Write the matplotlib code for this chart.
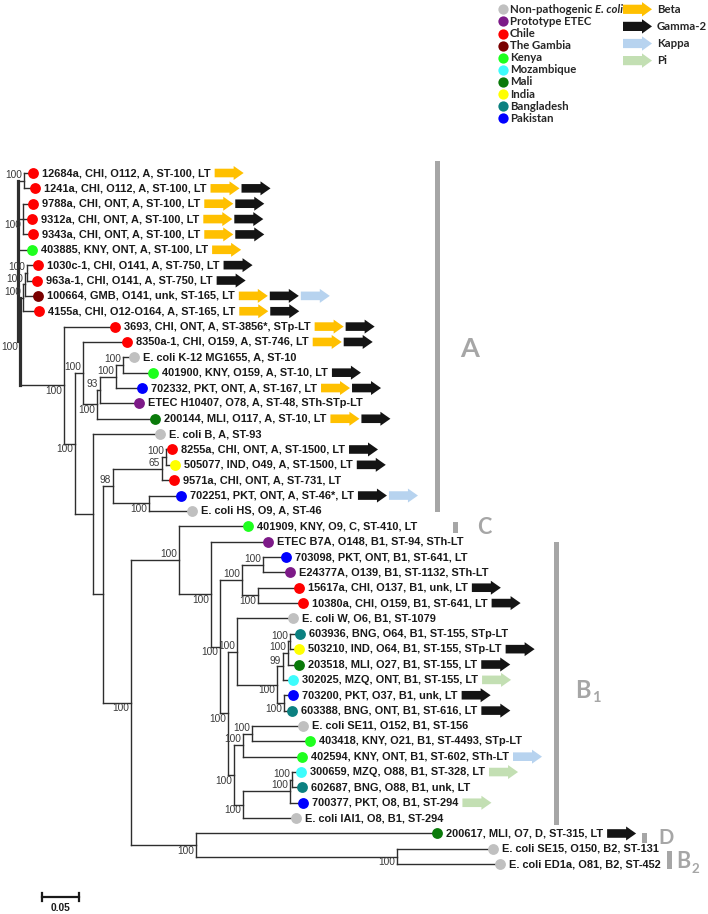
import matplotlib.pyplot as plt
from matplotlib.patches import Polygon, Rectangle
from matplotlib.transforms import Affine2D, IdentityTransform

W, H = 708, 914

# ---------------- data ----------------
# leaf labels, top to bottom
labels = [
    "12684a, CHI, O112, A, ST-100, LT", "1241a, CHI, O112, A, ST-100, LT",
    "9788a, CHI, ONT, A, ST-100, LT", "9312a, CHI, ONT, A, ST-100, LT",
    "9343a, CHI, ONT, A, ST-100, LT", "403885, KNY, ONT, A, ST-100, LT",
    "1030c-1, CHI, O141, A, ST-750, LT", "963a-1, CHI, O141, A, ST-750, LT",
    "100664, GMB, O141, unk, ST-165, LT", "4155a, CHI, O12-O164, A, ST-165, LT",
    "3693, CHI, ONT, A, ST-3856*, STp-LT", "8350a-1, CHI, O159, A, ST-746, LT",
    "E. coli K-12 MG1655, A, ST-10", "401900, KNY, O159, A, ST-10, LT",
    "702332, PKT, ONT, A, ST-167, LT", "ETEC H10407, O78, A, ST-48, STh-STp-LT",
    "200144, MLI, O117, A, ST-10, LT", "E. coli B, A, ST-93",
    "8255a, CHI, ONT, A, ST-1500, LT", "505077, IND, O49, A, ST-1500, LT",
    "9571a, CHI, ONT, A, ST-731, LT", "702251, PKT, ONT, A, ST-46*, LT",
    "E. coli HS, O9, A, ST-46", "401909, KNY, O9, C, ST-410, LT",
    "ETEC B7A, O148, B1, ST-94, STh-LT", "703098, PKT, ONT, B1, ST-641, LT",
    "E24377A, O139, B1, ST-1132, STh-LT", "15617a, CHI, O137, B1, unk, LT",
    "10380a, CHI, O159, B1, ST-641, LT", "E. coli W, O6, B1, ST-1079",
    "603936, BNG, O64, B1, ST-155, STp-LT", "503210, IND, O64, B1, ST-155, STp-LT",
    "203518, MLI, O27, B1, ST-155, LT", "302025, MZQ, ONT, B1, ST-155, LT",
    "703200, PKT, O37, B1, unk, LT", "603388, BNG, ONT, B1, ST-616, LT",
    "E. coli SE11, O152, B1, ST-156", "403418, KNY, O21, B1, ST-4493, STp-LT",
    "402594, KNY, ONT, B1, ST-602, STh-LT", "300659, MZQ, O88, B1, ST-328, LT",
    "602687, BNG, O88, B1, unk, LT", "700377, PKT, O8, B1, ST-294",
    "E. coli IAI1, O8, B1, ST-294", "200617, MLI, O7, D, ST-315, LT",
    "E. coli SE15, O150, B2, ST-131", "E. coli ED1a, O81, B2, ST-452",
]
origin = ["CHI", "CHI", "CHI", "CHI", "CHI", "KNY", "CHI", "CHI", "GMB", "CHI",
          "CHI", "CHI", "np", "KNY", "PKT", "proto", "MLI", "np", "CHI", "IND",
          "CHI", "PKT", "np", "KNY", "proto", "PKT", "proto", "CHI", "CHI", "np",
          "BNG", "IND", "MLI", "MZQ", "PKT", "BNG", "np", "KNY", "KNY", "MZQ",
          "BNG", "PKT", "np", "MLI", "np", "np"]
# b = Beta, g = Gamma-2, k = Kappa, p = Pi
arrows = ["b", "bg", "bg", "bg", "bg", "b", "g", "g", "bgk", "bg",
          "bg", "bg", "", "g", "bg", "", "bg", "", "g", "g",
          "", "gk", "", "", "", "", "", "g", "g", "",
          "", "g", "g", "p", "g", "g", "", "", "k", "p",
          "", "p", "", "g", "", ""]

legend_keys = ["np", "proto", "CHI", "GMB", "KNY", "MZQ", "MLI", "IND", "BNG", "PKT"]
legend_names = ["Non-pathogenic ", "Prototype ETEC", "Chile", "The Gambia", "Kenya",
                "Mozambique", "Mali", "India", "Bangladesh", "Pakistan"]
legend_colors = ["#c0c0c0", "#7d1a88", "#ff0000", "#7a0000", "#1eff1e",
                 "#3dfcfc", "#0a7a0a", "#ffff00", "#0b8080", "#0000ff"]
gene_keys = ["b", "g", "k", "p"]
gene_names = ["Beta", "Gamma-2", "Kappa", "Pi"]
gene_colors = ["#ffc000", "#141414", "#b7d3ef", "#c3dfb3"]

# tree (leaf names are row indices, internal labels are bootstrap values)
c1 = "(0:0.0122,1:0.0149)100:0.0081"
c2 = "(2:0.0135,3:0.0122,4:0.0135)100:0.0068"
g4 = "(((6:0.0149,7:0.0135)100:0.0027,8:0.0176)100:0.0027,9:0.0216)100:0.0041"
n97 = "((((12:0.0149,13:0.0405)100:0.0095,14:0.0351)100:0.0216,15:0.0527)93:0.0041,16:0.0784)100:0.0189"
n83 = "(11:0.0595," + n97 + ")100:0.0108"
n113 = "(((18:0.0081,19:0.0122)100:0.0054,20:0.0162)65:0.0662,(21:0.0432,22:0.0581)100:0.0486)98:0.0135"
n242 = "((25:0.0311,26:0.0365)100:0.0284,(27:0.0554,28:0.0608)100:0.0216)100:0.0297"
n237 = ("(29:0.0757,((((30:0.0135,31:0.0122)100:0.0027,32:0.0149)100:0.0068,33:0.0135)99:0.0081,"
        "(34:0.0122,35:0.0108)100:0.0095)100:0.0541)100:0.0122")
n234 = ("(((36:0.0689,37:0.0784)100:0.0122,38:0.0797)100:0.0122,"
        "(((39:0.0122,40:0.0135)100:0.0027,41:0.0176)100:0.0635,42:0.0716)100:0.0122)100:0.0081")
y228 = "(" + n237 + "," + n234 + ")100:0.0108"
x220 = "(" + n242 + "," + y228 + ")100:0.0122"
n211 = "(24:0.0770," + x220 + ")100:0.0432"
n179 = "(23:0.0932," + n211 + ")100:0.0649"
n196 = "(43:0.3257,(44:0.1297,45:0.1392)100:0.2716)100:0.0878"
n131 = "(" + n179 + "," + n196 + ")100:0.0378"
n103 = "(" + n113 + "," + n131 + "):0.0135"
n93 = "(17:0.0905," + n103 + "):0.0243"
n75 = "(" + n83 + "," + n93 + ")100:0.0149"
x64 = "(10:0.0689," + n75 + ")100:0.0595"
na = "(" + g4 + "," + x64 + ")100:0.0027"
newick = "(" + c1 + "," + c2 + ",5:0.0189," + na + ");"


def parse(s):
    pos = 0

    def node():
        nonlocal pos
        kids = []
        if s[pos] == '(':
            pos += 1
            kids.append(node())
            while s[pos] == ',':
                pos += 1
                kids.append(node())
            pos += 1
        start = pos
        while s[pos] not in ':,);':
            pos += 1
        name = s[start:pos]
        blen = 0.0
        if s[pos] == ':':
            pos += 1
            start = pos
            while s[pos] not in ',);':
                pos += 1
            blen = float(s[start:pos])
        return {'name': name, 'len': blen, 'kids': kids}
    return node()


def layout(n, x0=0.0):
    n['x'] = x0 + n['len']
    if n['kids']:
        for k in n['kids']:
            layout(k, n['x'])
        n['y'] = (n['kids'][0]['y'] + n['kids'][-1]['y']) / 2
    else:
        n['y'] = int(n['name'])


root = parse(newick)
layout(root)

# ---------------- figure ----------------
PXU = 740.0      # pixels per substitution unit
ROW = 15.36      # pixels per leaf row
X0, Y0 = 18, 173
fig = plt.figure(figsize=(W / 100, H / 100), dpi=100)
ax = fig.add_axes([0, 0, 1, 1])
ax.axis('off')
ax.set_xlim(-X0 / PXU, (W - X0) / PXU)
ax.set_ylim((H - Y0) / ROW, -Y0 / ROW)
px_tr = Affine2D().scale(1, -1).translate(0, H)

line_c = '#2e2e2e'
lab_font = dict(family='Liberation Sans', fontsize=7.95, fontweight='bold', color='#1a1a1a')
bs_font = dict(family='Liberation Sans', fontsize=7.3, color='#3a3a3a')
col = dict(zip(legend_keys, legend_colors))
gcol = dict(zip(gene_keys, gene_colors))


def draw(n):
    if not n['kids']:
        return
    # the stacked verticals next to the root read as one thick stroke
    lw = 2.3 if n['x'] < 0.004 else 1.0
    ax.plot([n['x'], n['x']], [n['kids'][0]['y'], n['kids'][-1]['y']],
            color=line_c, lw=lw, solid_capstyle='projecting')
    for i, k in enumerate(n['kids']):
        ax.plot([n['x'], k['x']], [k['y'], k['y']], color=line_c, lw=1.0,
                solid_capstyle='projecting')
        if k['kids'] and k['name']:
            above = (i == 0)
            ax.text(k['x'] - 2 / PXU, k['y'] + (-0.05 if above else 0.05), k['name'],
                    ha='right', va='bottom' if above else 'top', **bs_font)
        draw(k)


draw(root)

leaves = []


def collect(n):
    if n['kids']:
        for k in n['kids']:
            collect(k)
    else:
        leaves.append(n)


collect(root)

texts = []
for lf in leaves:
    i = int(lf['name'])
    ax.plot(lf['x'], lf['y'], 'o', ms=7.8, mfc=col[origin[i]], mec='none', zorder=3)
    texts.append(ax.text(lf['x'] + 9 / PXU, lf['y'], labels[i], ha='left', va='center', **lab_font))


def arrow(x, yc, color, L=29, bh=4.3, hh=7.0, hl=10):
    pts = [(x, yc - bh), (x + L - hl, yc - bh), (x + L - hl, yc - hh), (x + L, yc),
           (x + L - hl, yc + hh), (x + L - hl, yc + bh), (x, yc + bh)]
    fig.add_artist(Polygon(pts, closed=True, fc=color, ec='none', transform=px_tr))


fig.canvas.draw()
r = fig.canvas.get_renderer()
for lf, t in zip(leaves, texts):
    i = int(lf['name'])
    bb = t.get_window_extent(r)
    x = bb.x1 + 4
    yc = H - ax.transData.transform((0, lf['y']))[1]
    for g in arrows[i]:
        arrow(x, yc, gcol[g])
        x += 31

# clade bars and letters
bar_c = '#a6a6a6'
clades = [('A', '', 437, 161, 512, 470, 349, 19.5), ('C', '', 455, 522, 533, 484, 528, 15.5),
          ('B', '1', 556, 542, 825, 583, 690, 17), ('D', '', 644, 833, 843, 666, 838, 14.5),
          ('B', '2', 669, 851, 869, 683, 862, 15.5)]
for let, sub, bx, t0, t1, lx, ly, fs in clades:
    fig.add_artist(Rectangle((bx - 2.5, t0), 5, t1 - t0, fc=bar_c, ec='none', transform=px_tr))
    tt = fig.text(lx, ly, let, ha='center', va='center', fontsize=fs, fontweight='bold',
                  family='Lato', color=bar_c, transform=px_tr)
    if sub:
        bb = tt.get_window_extent(r)
        fig.text(bb.x1 + 1, ly + fs * 0.45, sub, ha='left', va='center', fontsize=fs * 0.62,
                 fontweight='bold', family='Lato', color=bar_c, transform=px_tr)

# legend: origins
leg_font = dict(family='Lato', fontsize=8.2, fontweight='bold', color='#262626')
for j, (nm, c) in enumerate(zip(legend_names, legend_colors)):
    py = 9.3 + j * 12.1
    fig.add_artist(plt.Line2D([503], [py], marker='o', ms=7.4, mfc=c, mec='none',
                              transform=px_tr))
    t = fig.text(510, py, nm, ha='left', va='center', transform=px_tr, **leg_font)
    if j == 0:
        bb = t.get_window_extent(r)
        fig.text(bb.x1, H - py, "E. coli", ha='left', va='center', style='italic',
                 transform=IdentityTransform(), **leg_font)

# legend: genes
for j, (nm, c) in enumerate(zip(gene_names, gene_colors)):
    py = 9.3 + j * 17.1
    arrow(623, py, c, L=29, bh=4.6, hh=7.2, hl=10)
    fig.text(657, py, nm, ha='left', va='center', transform=px_tr, **leg_font)

# scale bar
sx0 = (42 - X0) / PXU
sy = (897 - Y0) / ROW
ax.plot([sx0, sx0 + 0.05], [sy, sy], color='#1a1a1a', lw=1.6)
for xx in (sx0, sx0 + 0.05):
    ax.plot([xx, xx], [sy - 0.25, sy + 0.25], color='#1a1a1a', lw=1.6)
ax.text(sx0 + 0.025, sy + 0.4, "0.05", ha='center', va='top',
        family='Liberation Sans', fontsize=7.4, fontweight='bold', color='#1a1a1a')

fig.savefig('out.png', dpi=100)
